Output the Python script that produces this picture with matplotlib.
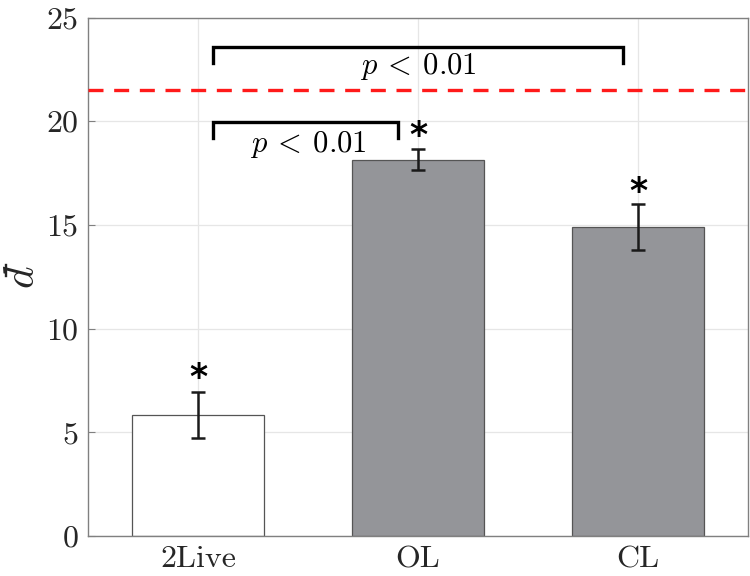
import numpy as np
import matplotlib
matplotlib.use("Agg")
import matplotlib.pyplot as plt
from matplotlib.lines import Line2D

plt.rcParams['mathtext.fontset'] = 'cm'
plt.rcParams['font.family'] = ['cmr10', 'DejaVu Serif']
plt.rcParams['axes.formatter.use_mathtext'] = True

# data
groups = ["2Live", "OL", "CL"]
means = [5.84, 18.14, 14.9]
errs = [1.12, 0.5, 1.1]
star_y = [7.6, 19.3, 16.6]
bar_colors = ["white", "#949599", "#949599"]
threshold = 21.5

# significance brackets: (x0, x1, y top, y end, text x, text y)
brackets = [(1.07, 2.93, 23.6, 22.8, 2.0, 22.65),
            (1.07, 1.91, 19.95, 19.18, 1.5, 18.9)]
p_text = r"$p\:<\:0.01$"

fig = plt.figure(figsize=(7.5, 5.76), dpi=100)
ax = fig.add_axes([0.1173, 0.0694, 0.88, 0.9002])

x = np.arange(1, len(groups) + 1)
ax.bar(x, means, width=0.6, color=bar_colors, edgecolor="#555555",
       linewidth=0.9, zorder=2)
ax.errorbar(x, means, yerr=errs, fmt="none", ecolor="#1a1a1a",
            elinewidth=1.8, capsize=5, capthick=1.8, zorder=3)

for xi, yi in zip(x, star_y):
    ax.text(xi, yi, "*", ha="center", va="center", fontsize=25,
            family="DejaVu Sans", fontweight="bold", zorder=4)

ax.axhline(threshold, color="#ff1a1a", linestyle=(0, (4.5, 3.2)),
           linewidth=2.4, zorder=3)

for x0, x1, ytop, yend, tx, ty in brackets:
    ax.plot([x0, x0, x1, x1], [yend, ytop, ytop, yend], color="black",
            linewidth=2.4, solid_joinstyle="miter", zorder=4)
    ax.text(tx, ty, p_text, ha="center", va="center", fontsize=22, zorder=4)

ax.set_xlim(0.5, 3.5)
ax.set_ylim(0, 25)
ax.set_xticks(x)
ax.set_xticklabels(groups)
ax.set_yticks([0, 5, 10, 15, 20, 25])

# y label: d with a macron (drawn by hand, mathtext accent does not show)
fig.text(23 / 750, 1 - 277 / 576, r"$d$", fontsize=31, rotation=90,
         ha="center", va="center", color="#262626")
fig.add_artist(Line2D([5.5 / 750, 5.5 / 750], [1 - 265 / 576, 1 - 276 / 576],
                      transform=fig.transFigure, color="#262626", linewidth=1.7))

ax.grid(True, color="#e6e6e6", linewidth=0.9, zorder=0)
ax.set_axisbelow(True)
for s in ax.spines.values():
    s.set_color("#808080")
    s.set_linewidth(1.0)
ax.tick_params(direction="in", length=5, width=0.8, color="#808080",
               labelsize=23, labelcolor="#262626", pad=7, top=False, right=False)

fig.savefig("out.png", dpi=100)
